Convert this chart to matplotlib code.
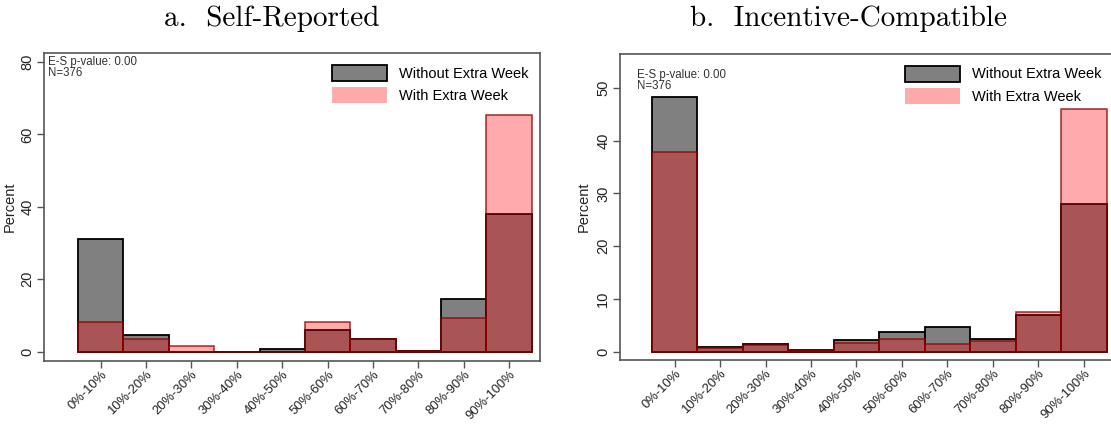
import numpy as np
import matplotlib
matplotlib.use("Agg")
import matplotlib.pyplot as plt
from matplotlib.patches import Patch

plt.rcParams['font.family'] = ['Liberation Sans', 'DejaVu Sans']

# data (percent of subjects per bin)
bins = ['0%-10%', '10%-20%', '20%-30%', '30%-40%', '40%-50%',
        '50%-60%', '60%-70%', '70%-80%', '80%-90%', '90%-100%']

self_without = [31.0, 4.7, 0.0, 0.0, 0.7, 6.1, 3.6, 0.3, 14.6, 37.9]
self_with = [8.2, 3.4, 1.6, 0.0, 0.0, 8.2, 3.4, 0.3, 9.3, 65.4]

ic_without = [48.2, 1.0, 1.4, 0.4, 2.2, 3.8, 4.7, 2.5, 6.9, 27.9]
ic_with = [37.8, 0.8, 1.3, 0.3, 1.6, 2.4, 1.4, 2.1, 7.6, 46.0]

titles = ['a.  Self-Reported', 'b.  Incentive-Compatible']
note = 'E-S p-value: 0.00\nN=376'

W, H = 1111, 424
fig = plt.figure(figsize=(W / 100, H / 100), dpi=100)

def px_axes(x0, y0, x1, y1):
    return fig.add_axes([x0 / W, 1 - y1 / H, (x1 - x0) / W, (y1 - y0) / H])

gray = '#808080'
pink = (1.0, 0.0, 0.0, 0.33)
fs = 10.5

def panel(ax, without, withx, yticks, ylim, xlim, note_pos):
    x = np.arange(len(bins))
    ax.bar(x, without, width=1.0, color=gray, edgecolor='black', linewidth=1.3, zorder=2)
    ax.bar(x, withx, width=1.0, color=pink, edgecolor=(0.55, 0.0, 0.0, 0.75),
           linewidth=1.2, zorder=3)
    ax.set_xlim(*xlim)
    ax.set_ylim(*ylim)
    ax.set_xticks(x)
    ax.set_xticklabels(bins, rotation=45, ha='right', rotation_mode='anchor', fontsize=9.4,
                       color='#222222')
    ax.set_yticks(yticks)
    ax.set_yticklabels([str(v) for v in yticks], rotation=90, va='center', fontsize=fs,
                       color='#222222')
    ax.set_ylabel('Percent', fontsize=fs, color='#222222')
    for s in ax.spines.values():
        s.set_color('#555555')
        s.set_linewidth(1.2)
    ax.tick_params(axis='both', direction='out', length=5, color='#555555', width=1)
    ax.tick_params(axis='x', pad=0.5)
    ax.tick_params(axis='y', pad=2)
    ax.text(note_pos[0], note_pos[1], note, transform=ax.transAxes, fontsize=8.3,
            va='top', ha='left', color='#333333', linespacing=0.85)
    handles = [Patch(facecolor=gray, edgecolor='black', linewidth=1.3),
               Patch(facecolor=pink, edgecolor='none')]
    ax.legend(handles, ['Without Extra Week', 'With Extra Week'], loc='upper right',
              frameon=False, fontsize=fs, handlelength=3.8, handleheight=1.3,
              borderaxespad=0.4, labelspacing=0.45, handletextpad=0.8)

ax1 = px_axes(44, 53, 540, 361)
panel(ax1, self_without, self_with, [0, 20, 40, 60, 80], (-2.6, 82.5), (-1.25, 9.68),
      (0.008, 0.99))
ax1.yaxis.set_label_coords(-0.055, 0.5)

ax2 = px_axes(620, 54, 1113, 360)
panel(ax2, ic_without, ic_with, [0, 10, 20, 30, 40, 50], (-1.55, 56.4), (-1.2, 9.64),
      (0.035, 0.95))
ax2.yaxis.set_label_coords(-0.06, 0.5)

fig.text(272 / W, 1 - 19 / H, titles[0], fontsize=21, family='cmr10', ha='center', va='center')
fig.text(848 / W, 1 - 19 / H, titles[1], fontsize=21, family='cmr10', ha='center', va='center')

fig.savefig('out.png', dpi=100)
